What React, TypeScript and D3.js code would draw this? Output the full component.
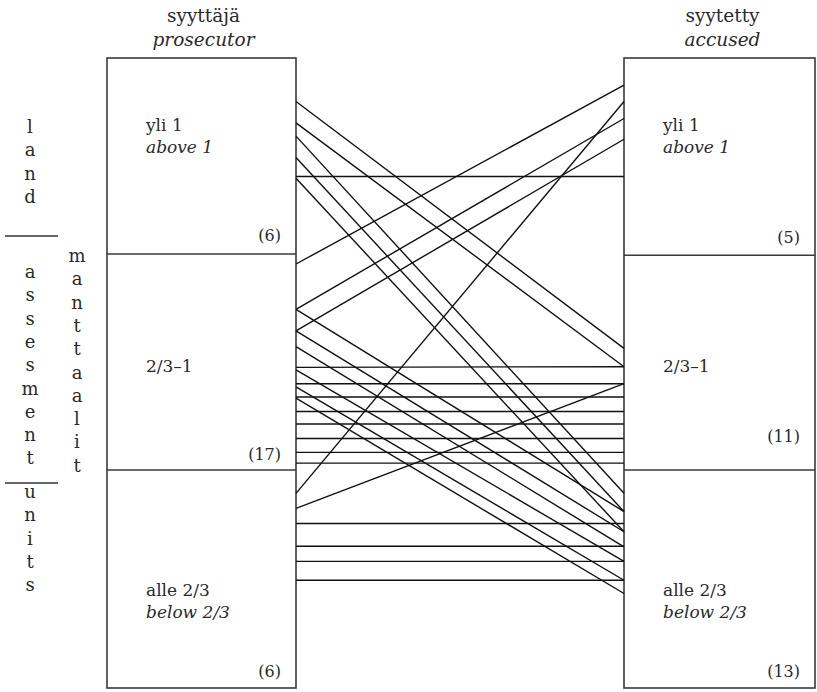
import React from "react";
import * as d3 from "d3";

// ---- data (vertical positions in % of column height, 0 = top, 100 = bottom) ----
const categoriesFi = ["yli 1", "2/3–1", "alle 2/3"];
const categoriesEn = ["above 1", "", "below 2/3"];
const prosecutorCounts = [6, 17, 6];
const accusedCounts = [5, 11, 13];
const prosecutorBounds = [31.1, 65.4];
const accusedBounds = [31.3, 65.4];

// each case: prosecutor's position -> accused's position
const prosecutorPos = [
  6.9, 10.3, 12.4, 15.8, 18.8, 19.1,
  32.7, 39.9, 39.9, 43.3, 43.3, 45.8, 49.1, 49.5, 51.7, 52.2, 53.8, 54.0,
  56.1, 58.1, 60.4, 62.6, 64.3,
  69.1, 71.5, 73.9, 77.5, 79.9, 82.9,
];
const accusedPos = [
  46.1, 49.0, 69.1, 72.0, 18.8, 75.2,
  4.3, 9.6, 72.0, 12.9, 75.2, 77.6, 49.0, 79.9, 51.7, 82.9, 53.8, 85.0,
  56.1, 58.1, 60.4, 62.6, 64.3,
  6.9, 51.7, 73.9, 77.5, 79.9, 82.9,
];

const sideCol1Top = ["l", "a", "n", "d"];
const sideCol1Mid = ["a", "s", "s", "e", "s", "m", "e", "n", "t"];
const sideCol1Bot = ["u", "n", "i", "t", "s"];
const sideCol2 = ["m", "a", "n", "t", "t", "a", "a", "l", "i", "t"];

const W = 817;
const H = 692;
const FONT = "'DejaVu Serif', serif";

export default function App() {
  const y = d3.scaleLinear().domain([0, 100]).range([58, 688]);
  const left = { x0: 107, x1: 296 };
  const right = { x0: 624, x1: 815 };

  const lineGen = d3
    .line<[number, number]>()
    .x((d) => d[0])
    .y((d) => d[1]);

  const links = prosecutorPos.map(
    (p, i) =>
      [
        [left.x1, y(p)],
        [right.x0, y(accusedPos[i])],
      ] as [number, number][]
  );

  const boxStroke = "#3a3a3a";
  const lineStroke = "#111";
  const textFill = "#2a2a2a";

  const renderBox = (
    box: { x0: number; x1: number },
    bounds: number[],
    counts: number[],
    countY: number[],
    key: string
  ) => {
    const labelX = box.x0 + 39;
    const nameY = [131, 372, 596];
    return (
      <g key={key}>
        <rect
          x={box.x0}
          y={y(0)}
          width={box.x1 - box.x0}
          height={y(100) - y(0)}
          fill="none"
          stroke={boxStroke}
          strokeWidth={1.6}
        />
        {bounds.map((b, i) => (
          <line
            key={i}
            x1={box.x0}
            x2={box.x1}
            y1={y(b)}
            y2={y(b)}
            stroke={boxStroke}
            strokeWidth={1.6}
          />
        ))}
        {categoriesFi.map((c, i) => (
          <g key={c}>
            <text x={labelX} y={nameY[i]} fontSize={17} fill={textFill}>
              {c}
            </text>
            {categoriesEn[i] && (
              <text
                x={labelX}
                y={nameY[i] + 22}
                fontSize={17}
                fontStyle="italic"
                fill={textFill}
              >
                {categoriesEn[i]}
              </text>
            )}
            <text
              x={box.x1 - 15}
              y={countY[i]}
              fontSize={16}
              textAnchor="end"
              fill={textFill}
            >
              ({counts[i]})
            </text>
          </g>
        ))}
      </g>
    );
  };

  const step = 23.3;

  return (
    <svg
      width={W}
      height={H}
      style={{ position: "absolute", left: 0, top: 0, background: "#fff" }}
      fontFamily={FONT}
    >
      <rect x={0} y={0} width={W} height={H} fill="#fff" />
      {/* column titles */}
      <text x={(left.x0 + left.x1) / 2 + 2} y={22} fontSize={18.5} textAnchor="middle" fill={textFill}>
        syyttäjä
      </text>
      <text x={(left.x0 + left.x1) / 2 + 2} y={46} fontSize={18.5} fontStyle="italic" textAnchor="middle" fill={textFill}>
        prosecutor
      </text>
      <text x={(right.x0 + right.x1) / 2 + 3} y={22} fontSize={18.5} textAnchor="middle" fill={textFill}>
        syytetty
      </text>
      <text x={(right.x0 + right.x1) / 2 + 3} y={46} fontSize={18.5} fontStyle="italic" textAnchor="middle" fill={textFill}>
        accused
      </text>

      {renderBox(left, prosecutorBounds, prosecutorCounts, [241, 460, 677], "L")}
      {renderBox(right, accusedBounds, accusedCounts, [243, 442, 677], "R")}

      {links.map((l, i) => (
        <path key={i} d={lineGen(l) || ""} stroke={lineStroke} strokeWidth={1.4} fill="none" />
      ))}

      {/* vertical side labels */}
      <g fontSize={18} textAnchor="middle" fill={textFill}>
        {sideCol1Top.map((c, i) => (
          <text key={"a" + i} x={30} y={133 + i * step}>
            {c}
          </text>
        ))}
        <line x1={5} x2={58} y1={236} y2={236} stroke="#333" strokeWidth={1.3} />
        {sideCol1Mid.map((c, i) => (
          <text key={"b" + i} x={30} y={278 + i * step}>
            {c}
          </text>
        ))}
        <line x1={5} x2={58} y1={483} y2={483} stroke="#333" strokeWidth={1.3} />
        {sideCol1Bot.map((c, i) => (
          <text key={"c" + i} x={30} y={498 + i * step}>
            {c}
          </text>
        ))}
        {sideCol2.map((c, i) => (
          <text key={"d" + i} x={77} y={262 + i * step}>
            {c}
          </text>
        ))}
      </g>
    </svg>
  );
}
